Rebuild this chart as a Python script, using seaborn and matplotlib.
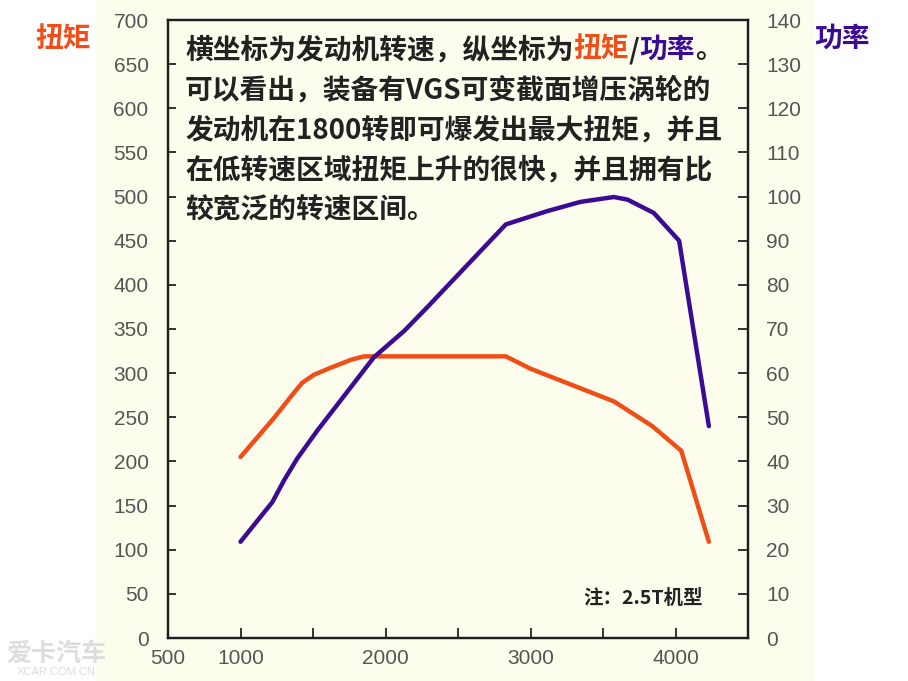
import matplotlib
matplotlib.use('Agg')
import matplotlib.pyplot as plt
import seaborn as sns
from matplotlib.patches import Rectangle

# engine speed (rpm) vs torque (N·m) and power (kW)
rpm_torque = [1000, 1230, 1360, 1425, 1505, 1620, 1760, 1850, 2830, 3000, 3575, 3840, 4040, 4230]
torque = [205, 249, 276, 289, 298, 306, 315, 319, 319, 305, 268, 240, 212, 109]
rpm_power = [1000, 1220, 1300, 1390, 1530, 1690, 1920, 2130, 2290, 2830, 3115, 3345,
             3575, 3670, 3850, 4025, 4230]
power = [21.8, 30.8, 35.7, 40.6, 47, 53.8, 63.6, 69.6, 75, 93.7, 96.7, 98.8,
         99.9, 99.3, 96.3, 90, 48]

x_major = [500, 1000, 2000, 3000, 4000]
x_minor = [1500, 2500, 3500]
torque_ticks = list(range(0, 701, 50))
power_ticks = list(range(0, 141, 10))

note_lines = [
    '可以看出，装备有VGS可变截面增压涡轮的',
    '发动机在1800转即可爆发出最大扭矩，并且',
    '在低转速区域扭矩上升的很快，并且拥有比',
    '较宽泛的转速区间。',
]

TORQUE_C = '#EF4E18'
POWER_C = '#3B0B94'
CREAM = '#FDFDEE'
CJK = ['Noto Sans CJK SC', 'DejaVu Sans']

sns.set_theme(style='ticks')
plt.rcParams['font.family'] = ['Liberation Sans', 'Noto Sans CJK SC']

W, H = 908, 681
fig = plt.figure(figsize=(W / 100, H / 100), dpi=100)
fig.patch.set_facecolor('white')
fig.add_artist(Rectangle((97 / W, 0), 716 / W, 1, transform=fig.transFigure,
                         color=CREAM, zorder=-1))

ax = fig.add_axes([168 / W, 1 - 638 / H, 580 / W, 618 / H])
ax.set_facecolor(CREAM)
ax2 = ax.twinx()

sns.lineplot(x=rpm_torque, y=torque, ax=ax, color=TORQUE_C, lw=3.2)
sns.lineplot(x=rpm_power, y=power, ax=ax2, color=POWER_C, lw=3.2)

ax.set_xlim(500, 4500)
ax.set_ylim(0, 700)
ax2.set_ylim(0, 140)
ax.set_xticks(x_major)
ax.set_xticks(x_minor, minor=True)
ax.set_yticks(torque_ticks)
ax2.set_yticks(power_ticks)

for a in (ax, ax2):
    for s in a.spines.values():
        s.set_visible(True)
        s.set_linewidth(1.6)
        s.set_color('#1e1e1e')

ax.tick_params(axis='y', direction='in', length=6, width=1.4, pad=14,
               labelsize=15, labelcolor='#555555', color='#333333')
ax.tick_params(axis='x', which='both', direction='in', length=7, width=1.4, pad=8,
               labelsize=15, labelcolor='#555555', color='#333333')
ax2.tick_params(axis='y', direction='in', length=7, width=1.4, pad=13,
                labelsize=15, labelcolor='#555555', color='#333333')
ax.grid(False)
ax2.grid(False)


def fx(px):
    return px / W


def fy(py):
    return 1 - py / H


# first line, with the two coloured words
parts = [('横坐标为发动机转速，纵坐标为', '#222222'), ('扭矩', TORQUE_C),
         ('/', '#222222'), ('功率', POWER_C), ('。', '#222222')]
prev = fig.text(fx(185), fy(50), parts[0][0], color=parts[0][1], fontsize=20,
                fontweight='bold', family=CJK, va='center', ha='left')
for txt, col in parts[1:]:
    prev = ax.annotate(txt, xy=(1, 0), xycoords=prev, va='bottom', ha='left',
                       color=col, fontsize=20, fontweight='bold', family=CJK)

for i, line in enumerate(note_lines):
    fig.text(fx(185), fy(90 + 40 * i), line, color='#222222', fontsize=20,
             fontweight='bold', family=CJK, va='center', ha='left')

fig.text(fx(583), fy(598), '注：2.5T机型', color='#222222', fontsize=14,
         fontweight='bold', family=CJK, va='center', ha='left')

fig.text(fx(63), fy(40), '扭矩', color=TORQUE_C, fontsize=20, fontweight='bold',
         family=CJK, va='center', ha='center')
fig.text(fx(842), fy(39), '功率', color=POWER_C, fontsize=20, fontweight='bold',
         family=CJK, va='center', ha='center')

# watermark
fig.text(fx(56), fy(654), '爱卡汽车', color='#dddddd', fontsize=18,
         fontweight='bold', family=CJK, va='center', ha='center')
fig.text(fx(56), fy(672), 'XCAR.COM.CN', color='#dddddd', fontsize=8,
         va='center', ha='center')

fig.savefig('out.png', dpi=100)
